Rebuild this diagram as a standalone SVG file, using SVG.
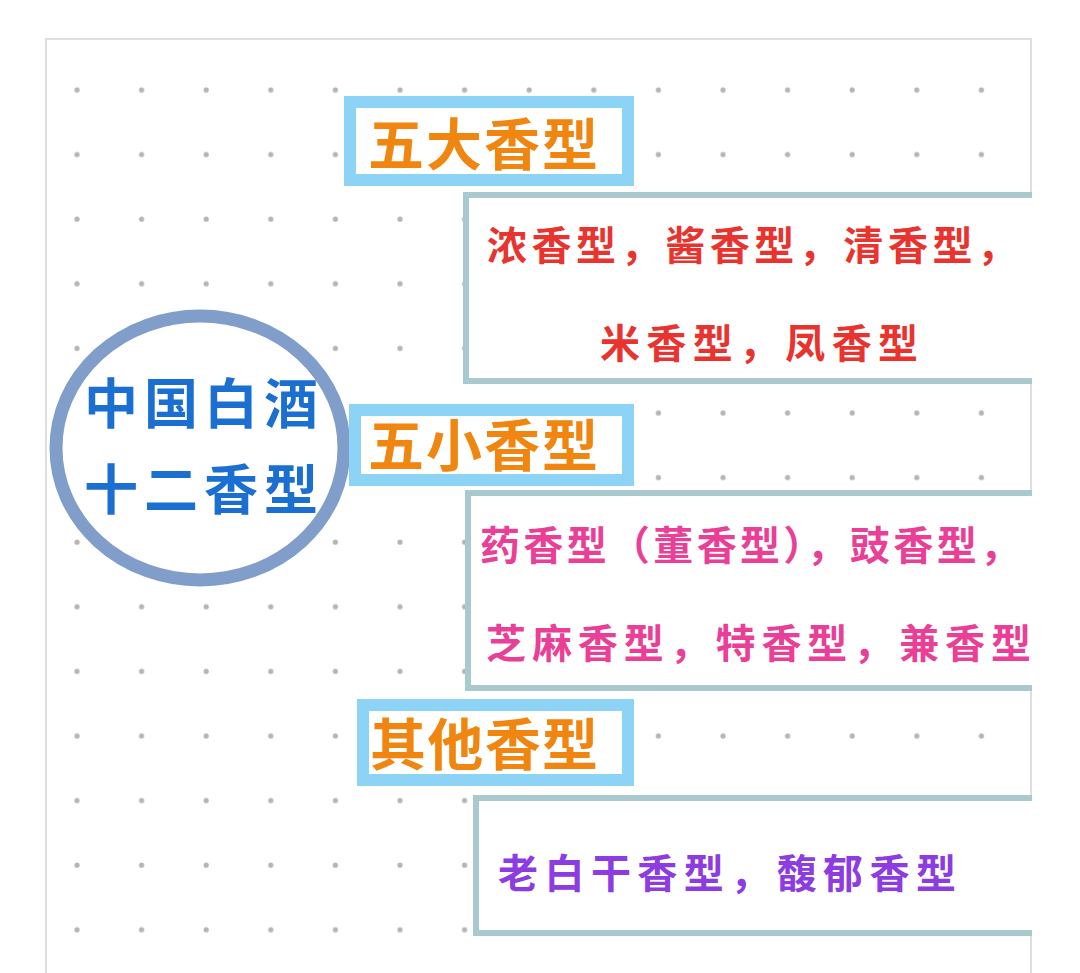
<svg xmlns="http://www.w3.org/2000/svg" width="1080" height="973" viewBox="0 0 1080 973">
<defs>
<pattern id="dots" x="45" y="58" width="64.6" height="64.6" patternUnits="userSpaceOnUse">
<circle cx="32" cy="32" r="2.6" fill="#b5b5b5"/>
</pattern>
<style>
.t{font-family:"Noto Sans CJK SC","Noto Sans",sans-serif;font-weight:bold}
.h{fill:#fff;stroke:#8dd3f6;stroke-width:12}
.c{fill:#fff;stroke:#a8cace;stroke-width:6}
</style>
</defs>
<rect width="1080" height="973" fill="#fff"/>
<rect x="46" y="39" width="985" height="940" fill="url(#dots)" stroke="#dedede" stroke-width="2"/>
<g id="connectors"></g>
<g id="root">
<ellipse cx="200" cy="448" rx="144" ry="132" fill="#fff" stroke="#819ecb" stroke-width="13"/>
<text class="t" x="84" y="424" font-size="54" fill="#1a6fd0" textLength="234" lengthAdjust="spacing">中国白酒</text>
<text class="t" x="84" y="510" font-size="54" fill="#1a6fd0" textLength="234" lengthAdjust="spacing">十二香型</text>
</g>
<g id="h1">
<rect class="h" x="350" y="102" width="278" height="78"/>
<text class="t" x="368" y="165" font-size="56" fill="#f0860f" textLength="230" lengthAdjust="spacing">五大香型</text>
</g>
<g id="c1">
<rect class="c" x="466" y="195" width="580" height="186"/>
<text class="t" x="487" y="260" font-size="40" fill="#e8332f" textLength="530" lengthAdjust="spacing">浓香型，酱香型，清香型，</text>
<text class="t" x="600" y="358" font-size="40" fill="#e8332f" textLength="318" lengthAdjust="spacing">米香型，凤香型</text>
</g>
<g id="h2">
<rect class="h" x="355" y="410" width="273" height="70"/>
<text class="t" x="368" y="466" font-size="56" fill="#f0860f" textLength="230" lengthAdjust="spacing">五小香型</text>
</g>
<g id="c2">
<rect class="c" x="468" y="493" width="580" height="195"/>
<text class="t" x="480" y="560" font-size="40" fill="#e93f96" textLength="540" lengthAdjust="spacing">药香型（董香型），豉香型，</text>
<text class="t" x="486" y="658" font-size="40" fill="#e93f96" textLength="545" lengthAdjust="spacing">芝麻香型，特香型，兼香型</text>
</g>
<g id="h3">
<rect class="h" x="363" y="705" width="265" height="75"/>
<text class="t" x="370" y="765" font-size="56" fill="#f0860f" textLength="228" lengthAdjust="spacing">其他香型</text>
</g>
<g id="c3">
<rect class="c" x="476" y="798" width="580" height="135"/>
<text class="t" x="498" y="888" font-size="40" fill="#8c3ce0" textLength="458" lengthAdjust="spacing">老白干香型，馥郁香型</text>
</g>
<rect x="1032" y="0" width="48" height="973" fill="#fff"/>
</svg>
